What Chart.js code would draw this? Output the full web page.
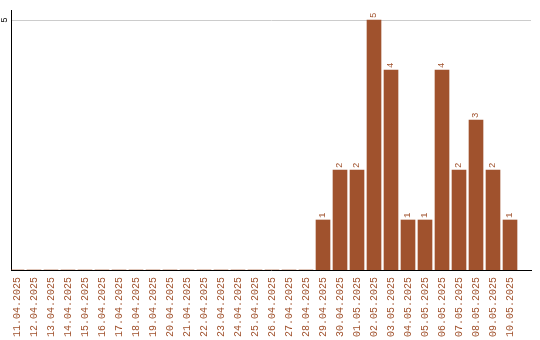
<!DOCTYPE html>
<html><head><meta charset="utf-8">
<script src="https://cdn.jsdelivr.net/npm/chart.js@4"></script>
<style>html,body{margin:0;padding:0;background:#fff}#wrap{width:540px;height:340px;position:relative}</style>
</head><body><div id="wrap"><canvas id="c"></canvas></div>
<script>
const dates = ['11.04.2025','12.04.2025','13.04.2025','14.04.2025','15.04.2025','16.04.2025','17.04.2025','18.04.2025','19.04.2025','20.04.2025','21.04.2025','22.04.2025','23.04.2025','24.04.2025','25.04.2025','26.04.2025','27.04.2025','28.04.2025','29.04.2025','30.04.2025','01.05.2025','02.05.2025','03.05.2025','04.05.2025','05.05.2025','06.05.2025','07.05.2025','08.05.2025','09.05.2025','10.05.2025'];
const counts = [0,0,0,0,0,0,0,0,0,0,0,0,0,0,0,0,0,0,1,2,2,5,4,1,1,4,2,3,2,1];
const yTicks = [5];
const brown = '#A0522D';
const FONT = "'Liberation Mono', 'DejaVu Sans Mono', monospace";

const labelPlugin = {
  id: 'labels',
  afterDatasetsDraw(chart) {
    const ctx = chart.ctx;
    const meta = chart.getDatasetMeta(0);
    ctx.save();
    ctx.fillStyle = brown;
    ctx.font = "9px " + FONT;
    meta.data.forEach((el, i) => {
      const v = counts[i];
      if (!v) return;
      ctx.save();
      ctx.translate(el.x, el.y - 2);
      ctx.rotate(-Math.PI / 2);
      ctx.textAlign = 'left';
      ctx.textBaseline = 'middle';
      ctx.fillText(String(v), 0, 0);
      ctx.restore();
    });
    const ys = chart.scales.y;
    ctx.fillStyle = '#000';
    ctx.font = "9px " + FONT;
    yTicks.forEach(t => {
      ctx.save();
      ctx.translate(5, ys.getPixelForValue(t));
      ctx.rotate(-Math.PI / 2);
      ctx.textAlign = 'center';
      ctx.textBaseline = 'middle';
      ctx.fillText(String(t), 0, 0);
      ctx.restore();
    });
    ctx.restore();
  }
};

new Chart(document.getElementById('c'), {
  type: 'bar',
  data: {
    datasets: [{
      data: counts.map((v, i) => ({x: i, y: v})),
      backgroundColor: brown,
      borderWidth: 0,
      barThickness: 14
    }]
  },
  options: {
    responsive: true,
    maintainAspectRatio: false,
    animation: false,
    events: [],
    layout: {padding: {top: 10, right: 9, left: 0, bottom: 0}},
    plugins: {legend: {display: false}, tooltip: {enabled: false}},
    scales: {
      x: {
        type: 'linear',
        offset: false,
        min: -0.353,
        max: 30.235,
        afterBuildTicks: s => { s.ticks = dates.map((_, i) => ({value: i})); },
        afterFit: s => { s.height = 70; s.paddingLeft = 0; s.paddingRight = 0; },
        grid: {display: false, drawTicks: false, offset: false},
        border: {display: true, color: '#000', width: 1},
        ticks: {
          autoSkip: false, minRotation: 90, maxRotation: 90, padding: 7,
          color: brown, font: {family: FONT, size: 10},
          callback: v => dates[v]
        }
      },
      y: {
        min: 0,
        max: 5.2,
        afterBuildTicks: s => { s.ticks = yTicks.map(v => ({value: v})); },
        afterFit: s => { s.width = 11; s.paddingTop = 0; s.paddingBottom = 0; },
        grid: {color: '#cccccc', drawTicks: false, lineWidth: 1},
        border: {display: true, color: '#000', width: 1},
        ticks: {display: false}
      }
    }
  },
  plugins: [labelPlugin]
});
</script>
</body></html>
